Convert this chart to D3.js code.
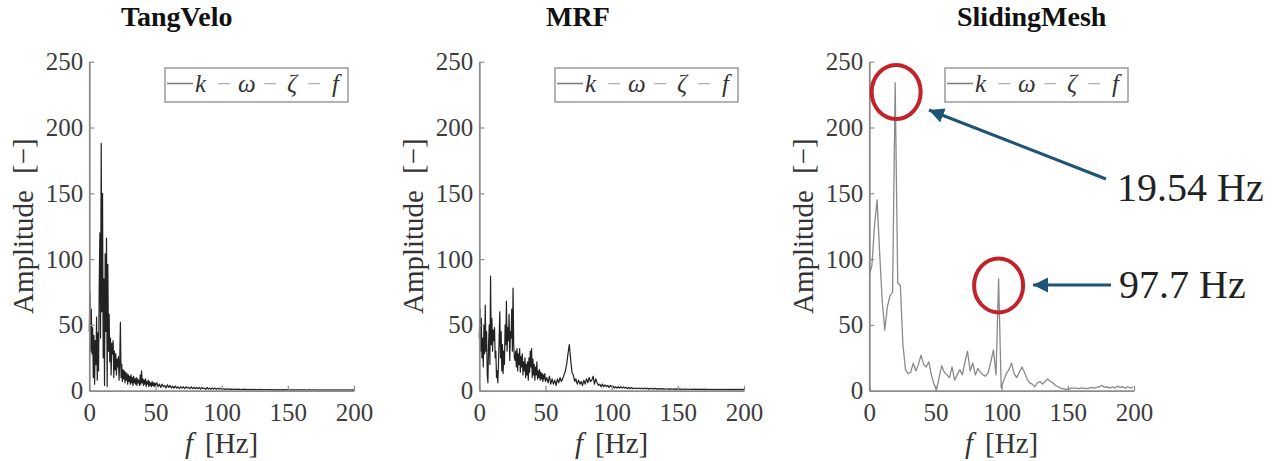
<!DOCTYPE html>
<html>
<head>
<meta charset="utf-8">
<script src="https://cdn.jsdelivr.net/npm/d3@7"></script>
<style>
  html, body { margin: 0; padding: 0; background: #fff; }
  svg { display: block; }
</style>
</head>
<body>
<svg id="chart" width="1272" height="461"></svg>
<script>
// ---------------- DATA ----------------
const panelTitles = ["TangVelo", "MRF", "SlidingMesh"];
const xTicks = [0, 50, 100, 150, 200];
const yTicks = [0, 50, 100, 150, 200, 250];
const legendParts = ["k", "−", "ω", "−", "ζ", "−", "f"];

// TangVelo: fine bins 0–50 Hz (0.5 Hz), tail bins 51–200 Hz (1 Hz)
const tangFineStep = 0.5;
const tangFine = [45,75,30,62,28,48,10,42,5,38,20,56,8,44,15,80,120,40,188,60,
  150,25,85,4,104,45,116,3,96,30,58,22,40,12,36,28,38,10,30,16,
  28,12,24,18,26,8,22,52,10,20,7,16,9,15,6,14,8,13,5,12,
  7,11,5,12,6,10,4,11,6,9,5,10,4,9,6,8,4,12,5,15,
  6,9,4,8,5,9,3,7,5,8,3,7,4,6,3,7,4,6,3,6,4];
const tangTailStart = 51;
const tangTail = [6,3,5,2.5,5,3,4,2,4.5,2.5, 4,2,3.5,2,3.5,2,3,1.5,3,2,
  3,1.5,3,2,2.5,1.5,3,1.5,2.5,1.5, 2.5,1.5,2.5,1.2,2.5,1.5,2,1,2.5,1.2,
  2,1,2.2,1.2,2,1,2,1.2,1.8,1, 1.5,1,1.4,0.9,1.5,1,1.2,0.8,1.3,0.9,
  1.2,0.8,1.2,0.9,1.1,0.8,1.2,0.8,1,0.8, 1,0.8,1,0.7,1,0.8,0.9,0.7,1,0.8,
  0.9,0.7,0.9,0.7,0.9,0.8,0.9,0.7,0.8,0.7, 0.8,0.7,0.8,0.7,0.8,0.6,0.8,0.7,0.8,0.7,
  0.7,0.6,0.7,0.6,0.7,0.6,0.7,0.6,0.7,0.6, 0.7,0.6,0.7,0.5,0.7,0.6,0.6,0.5,0.7,0.6,
  0.6,0.5,0.6,0.5,0.6,0.5,0.6,0.5,0.6,0.5, 0.6,0.5,0.6,0.5,0.6,0.5,0.6,0.5,0.6,0.5,
  0.6,0.5,0.6,0.5,0.6,0.5,0.6,0.5,0.6,0.5];

// MRF: fine bins 0–50 Hz (0.5 Hz), tail bins 51–200 Hz (1 Hz)
const mrfFineStep = 0.5;
const mrfFine = [40,62,30,55,25,40,18,50,28,65,30,45,12,6,35,50,20,87,35,55,
  30,46,38,48,25,30,10,15,6,20,40,60,25,45,15,35,13,30,20,50,
  35,68,30,48,38,58,23,45,40,62,30,78,35,25,23,30,18,32,15,28,
  20,32,14,26,18,28,12,22,15,25,10,20,12,22,8,25,14,30,18,32,
  10,24,12,20,8,18,12,22,9,15,10,16,8,14,9,13,7,12,9,13,7];
const mrfTailStart = 51;
const mrfTail = [10,6,11,5,9,5,8,4,9,6, 10,7,9,12,15,20,28,35,24,14,
  12,7,9,5,8,5,7,4,8,5, 9,6,10,7,8,11,5,9,6,4,
  5,3,5,3,4.5,3,4,2.5,4,3, 3.5,2,3,2,3,2,3,2,2.8,2,
  2.5,1.5,2.5,1.5,2.5,1.5,2,1.5,2,1.5, 2,1.5,2,1.2,2,1.5,1.8,1.2,1.8,1.3,
  1.8,1.2,1.8,1.2,1.6,1.2,1.6,1.2,1.6,1.1, 1.5,1.1,1.5,1,1.5,1.1,1.4,1,1.4,1,
  1.4,1,1.3,1,1.3,1,1.3,0.9,1.3,0.9, 1.2,0.9,1.2,0.9,1.2,0.9,1.2,0.9,1.2,0.9,
  1.2,0.9,1.1,0.9,1.1,0.8,1.1,0.8,1.1,0.8, 1.1,0.8,1.1,0.8,1.1,0.8,1.1,0.8,1,0.8,
  1,0.8,1,0.8,1,0.8,1,0.8,1,0.8];

// SlidingMesh: bins of 1.954 Hz
const slideStep = 1.954;
const slideAmp = [88,95,125,145,105,68,46,64,72,75,
  234,82,80,35,16,13,14,21,15,20,
  27,20,18,22,12,5,0.5,10,19,14,
  12,10,18,8,12,16,12,22,30,15,
  21,12,17,14,12,11,14,22,31,12,
  85,2,8,13,16,21,13,10,14,18,
  14,9,6,5,3,6,7,5,7,9,
  7,6,4,3,2,1.5,1,1,2,2,
  2,1.5,2,2,1.5,2,2.5,2,2.5,3,
  4,2.5,3,2,3,2,3.5,2.5,3,2,
  3,2,3];

// Annotations (SlidingMesh)
const annotPeaks = [19.54, 97.7];
const annotLabels = ["19.54 Hz", "97.7 Hz"];

// ---------------- LAYOUT ----------------
const svg = d3.select("#chart");
const panelLeft = [89.3, 479.3, 869.3];
const plotW = 264.7, plotTop = 61.7, plotBottom = 390.7;
const titleX = [176.7, 578, 1031.7];
const serif = "'Liberation Serif', 'Times New Roman', serif";

const seriesData = [
  tangFine.map((a, i) => ({f: i * tangFineStep, a})).concat(tangTail.map((a, i) => ({f: tangTailStart + i, a}))),
  mrfFine.map((a, i) => ({f: i * mrfFineStep, a})).concat(mrfTail.map((a, i) => ({f: mrfTailStart + i, a}))),
  slideAmp.map((a, i) => ({f: i * slideStep, a}))
];
const lineColors = ["#222", "#222", "#8a8a8a"];
const lineWidths = [1.2, 1.2, 1.3];

const scales = [];

panelTitles.forEach((title, p) => {
  const x = d3.scaleLinear().domain([0, 200]).range([panelLeft[p], panelLeft[p] + plotW]);
  const y = d3.scaleLinear().domain([0, 250]).range([plotBottom, plotTop]);
  scales.push({x, y});
  const g = svg.append("g");

  // title
  g.append("text").attr("x", titleX[p]).attr("y", 26)
    .attr("text-anchor", "middle").attr("font-family", serif)
    .attr("font-weight", "bold").attr("font-size", 28).attr("fill", "#111")
    .text(title);

  // data line
  g.append("path").datum(seriesData[p])
    .attr("fill", "none").attr("stroke", lineColors[p])
    .attr("stroke-width", lineWidths[p]).attr("stroke-linejoin", "round")
    .attr("d", d3.line().x(d => x(d.f)).y(d => y(d.a)));

  // axes
  const yAxis = d3.axisLeft(y).tickValues(yTicks).tickSizeInner(-5).tickSizeOuter(0).tickPadding(6);
  const xAxis = d3.axisBottom(x).tickValues(xTicks).tickSizeInner(-5).tickSizeOuter(0).tickPadding(13);
  const ya = g.append("g").attr("transform", `translate(${panelLeft[p]},0)`).call(yAxis);
  const xa = g.append("g").attr("transform", `translate(0,${plotBottom})`).call(xAxis);
  [ya, xa].forEach(a => {
    a.select(".domain").attr("stroke", "#8c8c8c").attr("stroke-width", 1.8);
    a.selectAll(".tick line").attr("stroke", "#8c8c8c").attr("stroke-width", 1.2);
    a.selectAll(".tick text").attr("font-family", serif).attr("font-size", 25).attr("fill", "#3c3c3c");
  });

  // y label
  const yl = g.append("text")
    .attr("transform", `translate(${panelLeft[p] - 56},${(plotTop + plotBottom) / 2}) rotate(-90)`)
    .attr("text-anchor", "middle").attr("font-family", serif).attr("font-size", 29).attr("fill", "#333");
  yl.append("tspan").text("Amplitude");
  yl.append("tspan").attr("dx", 16).text("[−]");

  // x label
  const xl = g.append("text").attr("x", panelLeft[p] + plotW / 2).attr("y", 453)
    .attr("text-anchor", "middle").attr("font-family", serif).attr("font-size", 29).attr("fill", "#333");
  xl.append("tspan").attr("font-style", "italic").text("f");
  xl.append("tspan").attr("dx", 12).text("[Hz]");

  // legend
  const lx = panelLeft[p] + plotW - 6 - 183;
  g.append("rect").attr("x", lx).attr("y", 68).attr("width", 183).attr("height", 34)
    .attr("fill", "#fff").attr("stroke", "#9a9a9a").attr("stroke-width", 1.5);
  g.append("line").attr("x1", lx + 2).attr("x2", lx + 28).attr("y1", 83.5).attr("y2", 83.5)
    .attr("stroke", "#7a7a7a").attr("stroke-width", 1.5);
  const offs = [30, 52, 73, 98, 122, 142, 167];
  const lt = g.append("text").attr("y", 92).attr("font-family", serif).attr("font-size", 25);
  legendParts.forEach((s, i) => {
    const minus = s === "−";
    lt.append("tspan").attr("x", lx + offs[i])
      .attr("font-style", minus ? "normal" : "italic")
      .attr("fill", minus ? "#b0b0b0" : "#333").text(s);
  });
});

// annotations on SlidingMesh
const s3 = scales[2];
const annotColor = "#1d5577";
const defs = svg.append("defs");
defs.append("marker").attr("id", "ah").attr("viewBox", "0 0 10 10")
  .attr("refX", 10).attr("refY", 5).attr("markerWidth", 5).attr("markerHeight", 6)
  .attr("markerUnits", "strokeWidth").attr("orient", "auto")
  .append("path").attr("d", "M0,0 L10,5 L0,10 z").attr("fill", annotColor);

const circleVals = [227, 80];
const arrowFrom = [[1106, 179], [1111, 285]];
const arrowTo = [[929, 110], [1033, 285]];
const labelPos = [[1117, 201], [1119, 298]];
annotPeaks.forEach((f, i) => {
  const cx = s3.x(f) + (i === 0 ? 1 : 0), cy = s3.y(circleVals[i]);
  svg.append("ellipse").attr("cx", cx).attr("cy", cy).attr("rx", 24.5).attr("ry", 27)
    .attr("fill", "none").attr("stroke", "#c1232b").attr("stroke-width", 4);
  svg.append("line").attr("x1", arrowFrom[i][0]).attr("y1", arrowFrom[i][1])
    .attr("x2", arrowTo[i][0]).attr("y2", arrowTo[i][1])
    .attr("stroke", annotColor).attr("stroke-width", 3).attr("marker-end", "url(#ah)");
  svg.append("text").attr("x", labelPos[i][0]).attr("y", labelPos[i][1])
    .attr("font-family", serif).attr("font-size", 40).attr("fill", "#222")
    .text(annotLabels[i]);
});
</script>
</body>
</html>
